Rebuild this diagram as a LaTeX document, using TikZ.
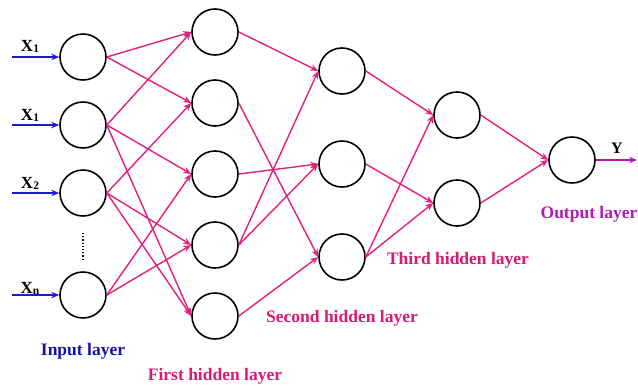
\documentclass[tikz,border=0pt]{standalone}
\usepackage{fontspec}
\setmainfont{Liberation Serif}
\usetikzlibrary{arrows.meta}
\definecolor{conn}{HTML}{E0207A}
\definecolor{inblue}{HTML}{1A1AD0}
\definecolor{labblue}{HTML}{1414A0}
\definecolor{labpink}{HTML}{D81B72}
\definecolor{outpurple}{HTML}{B418B4}
\tikzset{
  neuron/.style={circle, draw=black, line width=1.6pt, minimum size=46pt, inner sep=0pt},
  link/.style={draw=conn, line width=1.4pt, -{Stealth[length=8pt,width=6.5pt]}},
  inarrow/.style={draw=inblue, line width=1.4pt, -{Stealth[length=8pt,width=6.5pt]}},
  outarrow/.style={draw=outpurple, line width=1.4pt, -{Stealth[length=8pt,width=6.5pt]}},
  xlab/.style={font=\fontsize{17}{19}\selectfont\bfseries, inner sep=0pt},
  laylab/.style={font=\fontsize{17.5}{20}\selectfont\bfseries, inner sep=0pt},
}
\begin{document}
\begin{tikzpicture}[x=1pt,y=-1pt]
\useasboundingbox (0,0) rectangle (638,386);
% input layer
\node[neuron] (i1) at (83,57) {};
\node[neuron] (i2) at (83,125) {};
\node[neuron] (i3) at (83,193) {};
\node[neuron] (i4) at (83,295) {};
% first hidden
\node[neuron] (a1) at (215,32) {};
\node[neuron] (a2) at (215,103) {};
\node[neuron] (a3) at (215,174) {};
\node[neuron] (a4) at (215,245) {};
\node[neuron] (a5) at (215,316) {};
% second hidden
\node[neuron] (b1) at (342,71) {};
\node[neuron] (b2) at (342,164) {};
\node[neuron] (b3) at (342,257) {};
% third hidden
\node[neuron] (c1) at (457,115) {};
\node[neuron] (c2) at (457,203) {};
% output
\node[neuron] (o) at (572,160) {};
% input arrows
\coordinate (s1) at (12,57);
\coordinate (s2) at (12,125);
\coordinate (s3) at (12,193);
\coordinate (s4) at (12,295);
\draw[inarrow] (s1) -- (i1.west);
\draw[inarrow] (s2) -- (i2.west);
\draw[inarrow] (s3) -- (i3.west);
\draw[inarrow] (s4) -- (i4.west);
\node[xlab] (x1) at (30,46) {X\raisebox{-1pt}{\fontsize{11.5}{12}\selectfont 1}};
\node[xlab] (x2) at (30,115) {X\raisebox{-1pt}{\fontsize{11.5}{12}\selectfont 1}};
\node[xlab] (x3) at (30,183) {X\raisebox{-1pt}{\fontsize{11.5}{12}\selectfont 2}};
\node[xlab] (x4) at (30,288) {X\raisebox{-1pt}{\fontsize{11.5}{12}\selectfont n}};
% dots
\coordinate (d1) at (83,233);
\coordinate (d2) at (83,261);
\draw[line width=1.2pt, dotted] (d1) -- (d2);
% input -> first hidden
\draw[link] (i1.east) -- (a1.west);
\draw[link] (i1.east) -- (a2.west);
\draw[link] (i2.east) -- (a1.west);
\draw[link] (i2.east) -- (a3.west);
\draw[link] (i2.east) -- (a5.west);
\draw[link] (i3.east) -- (a2.west);
\draw[link] (i3.east) -- (a4.west);
\draw[link] (i3.east) -- (a5.west);
\draw[link] (i4.east) -- (a3.west);
\draw[link] (i4.east) -- (a4.west);
% first -> second
\draw[link] (a1.east) -- (b1.west);
\draw[link] (a2.east) -- (b3.west);
\draw[link] (a3.east) -- (b2.west);
\draw[link] (a4.east) -- (b1.west);
\draw[link] (a4.east) -- (b2.west);
\draw[link] (a5.east) -- (b3.west);
% second -> third
\draw[link] (b1.east) -- (c1.west);
\draw[link] (b2.east) -- (c2.west);
\draw[link] (b3.east) -- (c1.west);
\draw[link] (b3.east) -- (c2.west);
% third -> output
\draw[link] (c1.east) -- (o.west);
\draw[link] (c2.east) -- (o.west);
% output arrow
\coordinate (yend) at (637,160);
\draw[outarrow] (o.east) -- (yend);
\node[font=\fontsize{16}{18}\selectfont\bfseries, inner sep=0pt] (ylab) at (617,148) {Y};
% layer labels
\node[laylab, text=labblue] (l0) at (83,351) {Input layer};
\node[laylab, text=labpink] (l1) at (215,376) {First hidden layer};
\node[laylab, text=labpink] (l2) at (342,318) {Second hidden layer};
\node[laylab, text=labpink] (l3) at (458,260) {Third hidden layer};
\node[laylab, text=outpurple] (l4) at (589,214) {Output layer};
\end{tikzpicture}
\end{document}
